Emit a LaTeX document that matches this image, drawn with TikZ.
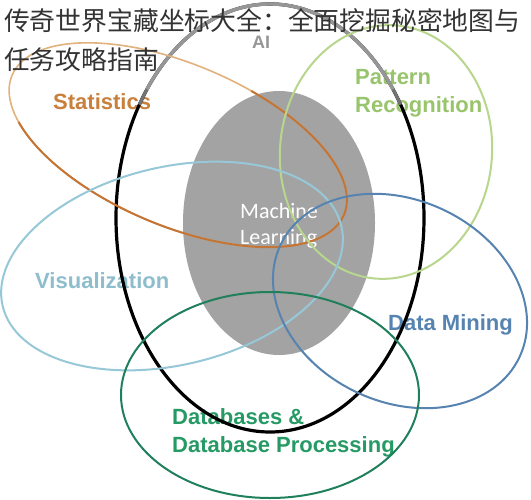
\documentclass[tikz,border=0pt]{standalone}
\usepackage{fontspec}
\usepackage{xcolor}
\usepackage{tikz}

\newfontfamily\cjk{Noto Sans CJK SC}
\newfontfamily\lblfont{Liberation Sans}
\newfontfamily\mlfont{Carlito}

\definecolor{mlgray}{RGB}{163,163,163}
\definecolor{aigray}{RGB}{150,150,150}
\definecolor{statorange}{RGB}{196,116,52}
\definecolor{statlight}{RGB}{225,178,125}
\definecolor{stattext}{RGB}{200,128,60}
\definecolor{patgreen}{RGB}{184,214,140}
\definecolor{pattext}{RGB}{152,196,108}
\definecolor{visblue}{RGB}{150,200,215}
\definecolor{vistext}{RGB}{142,189,205}
\definecolor{dmblue}{RGB}{86,131,176}
\definecolor{dbgreen}{RGB}{32,128,92}
\definecolor{dbtext}{RGB}{38,154,100}

\begin{document}
\begin{tikzpicture}[x=1bp,y=1bp,
    every node/.style={inner sep=0pt,anchor=base west},
    lbl/.style={font=\lblfont\bfseries\fontsize{22bp}{26bp}\selectfont},
    ring/.style={line width=2bp}]
  \fill[white] (0,0) rectangle (531,-500);
  \useasboundingbox (0,0) rectangle (531,-500);

  %%%%%%%%%%%%%%%%%%%%%%%%%%%%%%%%%%%%%%%%%%%%%%%%%%%%%%%%%%%%%%%%%%%%%%%%%%
  %%% BEGIN: LABELS.
  %%%%%%%%%%%%%%%%%%%%%%%%%%%%%%%%%%%%%%%%%%%%%%%%%%%%%%%%%%%%%%%%%%%%%%%%%%
  % Machine learning core.
  \fill[mlgray] (279,-223) ellipse [x radius=96, y radius=132];
  \node[white,font=\mlfont\fontsize{22bp}{26bp}\selectfont] (ml1) at (240,-218) {Machine};
  \node[white,font=\mlfont\fontsize{22bp}{26bp}\selectfont] (ml2) at (240,-244) {Learning};

  \node[lbl,aigray,font=\lblfont\bfseries\fontsize{18bp}{22bp}\selectfont] (ai) at (252,-49) {AI};
  \node[lbl,stattext] (stat) at (53,-110) {Statistics};
  \node[lbl,pattext] (pat1) at (355,-85) {Pattern};
  \node[lbl,pattext] (pat2) at (355,-113) {Recognition};
  \node[lbl,vistext] (vis) at (35,-288) {Visualization};
  \node[lbl,dmblue] (dm) at (388,-330) {Data Mining};
  \node[lbl,dbtext] (db1) at (172,-424) {Databases \&};
  \node[lbl,dbtext] (db2) at (172,-452) {Database Processing};
  %%%%%%%%%%%%%%%%%%%%%%%%%%%%%%%%%%%%%%%%%%%%%%%%%%%%%%%%%%%%%%%%%%%%%%%%%%
  %%% END: LABELS.
  %%%%%%%%%%%%%%%%%%%%%%%%%%%%%%%%%%%%%%%%%%%%%%%%%%%%%%%%%%%%%%%%%%%%%%%%%%

  %%%%%%%%%%%%%%%%%%%%%%%%%%%%%%%%%%%%%%%%%%%%%%%%%%%%%%%%%%%%%%%%%%%%%%%%%%
  %%% BEGIN: RINGS.
  %%%%%%%%%%%%%%%%%%%%%%%%%%%%%%%%%%%%%%%%%%%%%%%%%%%%%%%%%%%%%%%%%%%%%%%%%%
  % AI ring, black below and gray on top.
  \draw[line width=3.2bp,black] (270,-218) ellipse [x radius=154, y radius=214];
  \draw[line width=3.2bp,black!55] (270,-218) ++(32:154 and 214)
    arc [start angle=32, end angle=148, x radius=154, y radius=214];
  \draw[line width=3.4bp,aigray] (270,-218) ++(37:154 and 214)
    arc [start angle=37, end angle=143, x radius=154, y radius=214];

  % Statistics ring, light on the left and darker on the right.
  \begin{scope}[rotate around={-22.8:(178,-145)}]
    \draw[line width=1.6bp,statlight] (178,-145) ellipse [x radius=180, y radius=81];
    \draw[line width=2bp,statorange] (178,-145) ++(-150:180 and 81)
      arc [start angle=-150, end angle=75, x radius=180, y radius=81];
  \end{scope}

  % Other rings.
  \foreach \cx/\cy/\rx/\ry/\rot/\col in {386/152/106/127/-5/patgreen,
      172/266/174/99/13.3/visblue, 400/301/132/101/-25/dmblue,
      270/395/149/103/0/dbgreen}{
    \draw[ring,\col,rotate around={\rot:(\cx,-\cy)}] (\cx,-\cy) ellipse [x radius=\rx, y radius=\ry];
  }
  %%%%%%%%%%%%%%%%%%%%%%%%%%%%%%%%%%%%%%%%%%%%%%%%%%%%%%%%%%%%%%%%%%%%%%%%%%
  %%% END: RINGS.
  %%%%%%%%%%%%%%%%%%%%%%%%%%%%%%%%%%%%%%%%%%%%%%%%%%%%%%%%%%%%%%%%%%%%%%%%%%

  % Title on top.
  \node[black!80,font=\cjk\fontsize{25.8bp}{30bp}\selectfont] (title1) at (4,-31) {传奇世界宝藏坐标大全：全面挖掘秘密地图与};
  \node[black!80,font=\cjk\fontsize{25.8bp}{30bp}\selectfont] (title2) at (4,-70) {任务攻略指南};
\end{tikzpicture}
\end{document}
